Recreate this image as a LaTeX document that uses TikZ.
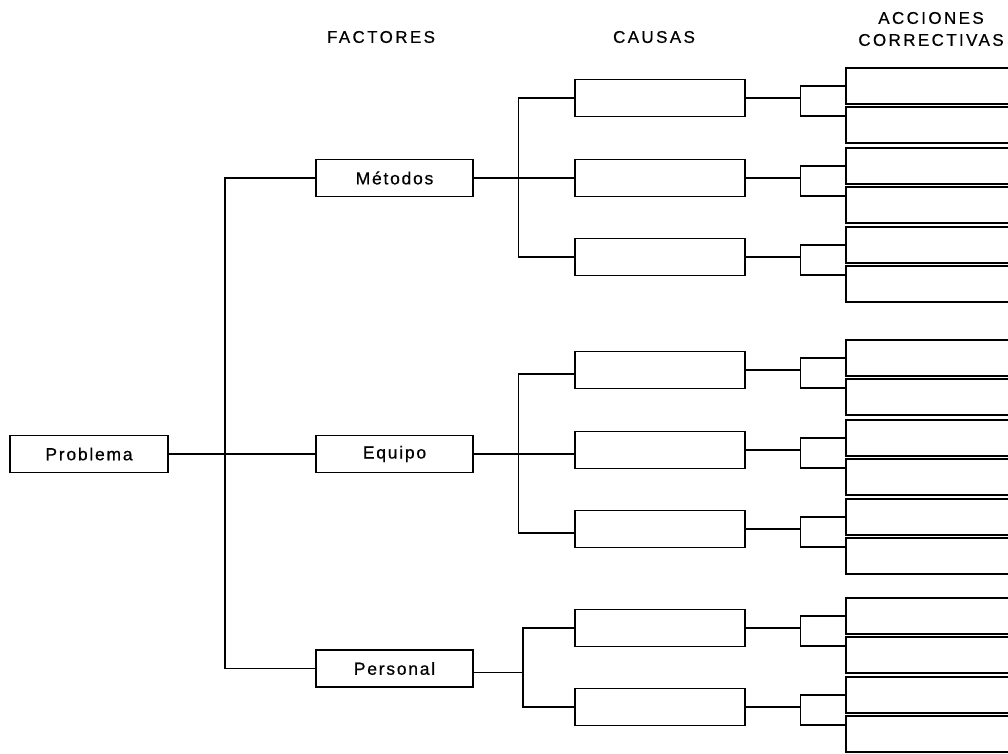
\documentclass[tikz,border=0pt]{standalone}
\usepackage{fontspec}
\setmainfont{Liberation Sans}
\newfontfamily\boxfont{Liberation Sans}[LetterSpace=10,FakeBold=0.6]
\newfontfamily\headfont{Liberation Sans}[LetterSpace=14,FakeBold=0.5]
\begin{document}
\begin{tikzpicture}[x=1pt,y=-1pt,
  box/.style={draw=black,line width=1.8pt,fill=white,inner sep=0pt,font=\boxfont\fontsize{17.5}{20}\selectfont},
  pbox/.style={box,minimum width=158pt,minimum height=37pt},
  fbox/.style={box,minimum width=157pt,minimum height=37pt},
  cbox/.style={box,minimum width=170pt,minimum height=37pt},
  abox/.style={box,minimum width=200pt,minimum height=36pt},
  conn/.style={draw=black,line width=1.6pt},
  head/.style={font=\headfont\fontsize{17}{19}\selectfont,inner sep=0pt,align=center}]
\useasboundingbox (0,0) rectangle (1008,753);
\clip (0,0) rectangle (1008,753);
\fill[white] (0,0) rectangle (1008,753);
% headers
\node[head] (hf) at (381,37) {FACTORES};
\node[head] (hc) at (654,37) {CAUSAS};
\node[head] (ha) at (931,18) {ACCIONES};
\node[head] (hb) at (931,40) {CORRECTIVAS};
% helper coordinates for vertical bracket lines
\coordinate (vx) at (225,0);
\coordinate (bx) at (518.5,0);
\coordinate (bx2) at (523,0);
\coordinate (ax) at (800.5,0);
% problem and factors
\node[pbox] (prob) at (89,454) {Problema};
\node[fbox] (m) at (394.5,178) {Métodos};
\node[fbox] (e) at (394.5,454) {Equipo};
\node[fbox] (p) at (394.5,668.5) {Personal};
% causes and actions
\foreach \n/\y in {1/98,2/178,3/257,4/370,5/450,6/529,7/628,8/707} {
  \node[cbox] (c\n) at (660,\y) {};
  \node[abox] (a\n) at (946,\y-12) {};
  \node[abox] (b\n) at (946,\y+27) {};
  \coordinate (bb\n) at ([yshift=9pt]b\n.west);
  \draw[conn] (c\n.east) -- (c\n.east -| ax);
  \draw[conn] (a\n.west) -- (a\n.west -| ax) -- (bb\n -| ax) -- (bb\n);
}
% problem to factors
\draw[conn] (prob.east) -- (e.west);
\draw[conn] (m.west) -- (m.west -| vx) -- (p.west -| vx) -- (p.west);
% Metodos to causes
\draw[conn] (m.east) -- (c2.west);
\draw[conn] (c1.west) -- (c1.west -| bx) -- (c3.west -| bx) -- (c3.west);
% Equipo to causes
\coordinate (k4) at ([yshift=-4pt]c4.west);
\coordinate (k5) at ([yshift=-4pt]c5.west);
\coordinate (k6) at ([yshift=-4pt]c6.west);
\draw[conn] (e.east) -- (e.east -| bx);
\draw[conn] (k4) -- (k4 -| bx) -- (k6 -| bx) -- (k6);
\draw[conn] (k5 -| bx) -- (k5);
% Personal to causes
\coordinate (pe) at ([yshift=-4pt]p.east);
\draw[conn] (pe) -- (pe -| bx2);
\draw[conn] (c7.west) -- (c7.west -| bx2) -- (c8.west -| bx2) -- (c8.west);
\end{tikzpicture}
\end{document}
